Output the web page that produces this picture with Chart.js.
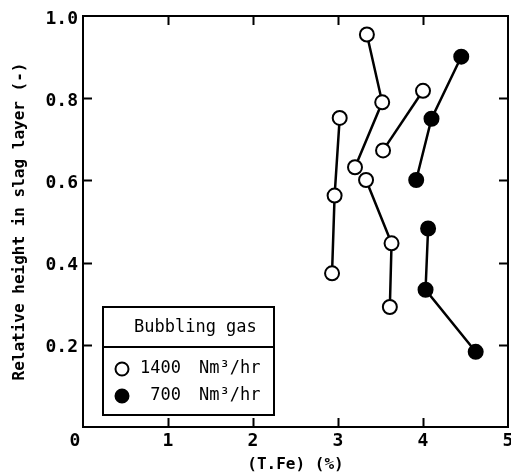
<!DOCTYPE html>
<html>
<head>
<meta charset="utf-8">
<script src="https://cdn.jsdelivr.net/npm/chart.js@4"></script>
<style>
  html, body { margin: 0; padding: 0; background: #fff; }
  #wrap { width: 511px; height: 474px; }
</style>
</head>
<body>
<div id="wrap"><canvas id="c" width="511" height="474"></canvas></div>
<script>
/* Slag layer height vs (T.Fe) — two bubbling gas rates */

const X_TICKS = [0, 1, 2, 3, 4, 5];
const Y_TICKS = [0, 0.2, 0.4, 0.6, 0.8, 1.0];

// 1400 Nm3/hr runs (open circles)
const runA_x = [3.34, 3.52, 3.20];
const runA_y = [0.955, 0.79, 0.632];
const runB_x = [3.33, 3.63, 3.61];
const runB_y = [0.601, 0.447, 0.292];
const runC_x = [3.02, 2.96, 2.93];
const runC_y = [0.752, 0.563, 0.374];
const runD_x = [3.53, 4.00];
const runD_y = [0.673, 0.818];

// 700 Nm3/hr runs (filled circles)
const runE_x = [4.45, 4.10, 3.92];
const runE_y = [0.901, 0.750, 0.601];
const runF_x = [4.06, 4.03, 4.62];
const runF_y = [0.483, 0.334, 0.183];

const LEGEND_TITLE = 'Bubbling gas';
const LEGEND_ROWS = [
  { rate: '1400', unit: 'Nm³/hr', filled: false },
  { rate: '700', unit: 'Nm³/hr', filled: true },
];

const FONT = "'DejaVu Sans Mono', monospace";

function pts(xs, ys) { return xs.map((x, i) => ({ x, y: ys[i] })); }
function run(xs, ys, filled) {
  return {
    data: pts(xs, ys),
    showLine: true,
    borderColor: '#000',
    borderWidth: 2.5,
    pointRadius: 7,
    pointBorderWidth: 2,
    pointBorderColor: '#000',
    pointBackgroundColor: filled ? '#000' : '#fff',
  };
}

/* inward ticks on all four sides, heavy frame, x tick labels */
const frameTicks = {
  id: 'frameTicks',
  afterDatasetsDraw(chart) {
    const { ctx, chartArea: a, scales: { x, y } } = chart;
    const len = 9;
    ctx.save();
    ctx.strokeStyle = '#000';
    ctx.lineWidth = 2;
    ctx.beginPath();
    X_TICKS.slice(1, -1).forEach((v) => {
      const px = Math.round(x.getPixelForValue(v)) + 0.5;
      ctx.moveTo(px, a.bottom); ctx.lineTo(px, a.bottom - len);
      ctx.moveTo(px, a.top); ctx.lineTo(px, a.top + len);
    });
    Y_TICKS.slice(1, -1).forEach((v) => {
      const py = Math.round(y.getPixelForValue(v)) + 0.5;
      ctx.moveTo(a.left, py); ctx.lineTo(a.left + len, py);
      ctx.moveTo(a.right, py); ctx.lineTo(a.right - len, py);
    });
    ctx.stroke();
    ctx.strokeRect(a.left, a.top, a.right - a.left, a.bottom - a.top);

    // x labels; the corner "0" is shared by both axes and sits left of origin
    ctx.fillStyle = '#000';
    ctx.font = `bold 18px ${FONT}`;
    ctx.textAlign = 'center';
    ctx.textBaseline = 'middle';
    X_TICKS.forEach((v) => {
      const px = x.getPixelForValue(v) - (v === 0 ? 8 : 0);
      ctx.fillText(String(v), px, a.bottom + 14);
    });
    ctx.restore();
  },
};

/* boxed legend in lower-left */
const boxLegend = {
  id: 'boxLegend',
  afterDraw(chart) {
    const { ctx } = chart;
    const L = 103, T = 307, R = 274, B = 415, mid = 347;
    ctx.save();
    ctx.fillStyle = '#fff';
    ctx.fillRect(L, T, R - L, B - T);
    ctx.strokeStyle = '#000';
    ctx.lineWidth = 2;
    ctx.strokeRect(L, T, R - L, B - T);
    ctx.beginPath(); ctx.moveTo(L, mid); ctx.lineTo(R, mid); ctx.stroke();

    ctx.fillStyle = '#000';
    ctx.font = `17px ${FONT}`;
    ctx.textBaseline = 'middle';
    ctx.textAlign = 'left';
    ctx.fillText(LEGEND_TITLE, 134, 328);

    LEGEND_ROWS.forEach((r, i) => {
      const cy = 369 + i * 27;
      ctx.beginPath();
      ctx.arc(122, cy, 6.5, 0, Math.PI * 2);
      ctx.fillStyle = r.filled ? '#000' : '#fff';
      ctx.fill();
      ctx.lineWidth = 2;
      ctx.stroke();
      ctx.fillStyle = '#000';
      ctx.textAlign = 'right';
      ctx.fillText(r.rate, 181, cy);
      ctx.textAlign = 'left';
      ctx.fillText(r.unit, 199, cy);
    });
    ctx.restore();
  },
};

new Chart(document.getElementById('c'), {
  type: 'scatter',
  data: {
    datasets: [
      run(runA_x, runA_y, false),
      run(runB_x, runB_y, false),
      run(runC_x, runC_y, false),
      run(runD_x, runD_y, false),
      run(runE_x, runE_y, true),
      run(runF_x, runF_y, true),
    ],
  },
  options: {
    responsive: false,
    animation: false,
    layout: { autoPadding: false, padding: { top: 16, right: 3, left: 0, bottom: 0 } },
    plugins: { legend: { display: false }, tooltip: { enabled: false } },
    scales: {
      x: {
        type: 'linear',
        min: 0, max: 5,
        afterBuildTicks: (s) => { s.ticks = X_TICKS.map((v) => ({ value: v })); },
        afterFit: (s) => { s.height = 47; s.paddingLeft = 0; s.paddingRight = 0; },
        grid: { display: false, drawTicks: false },
        border: { display: false },
        ticks: { display: false },
        title: {
          display: true,
          text: '(T.Fe) (%)',
          color: '#000',
          font: { family: FONT, size: 16, weight: 'bold' },
          padding: { top: 3, bottom: 0 },
        },
      },
      y: {
        type: 'linear',
        min: 0, max: 1,
        afterBuildTicks: (s) => { s.ticks = Y_TICKS.map((v) => ({ value: v })); },
        afterFit: (s) => { s.width = 83; s.paddingTop = 0; s.paddingBottom = 0; },
        grid: { display: false, drawTicks: false },
        border: { display: false },
        ticks: {
          color: '#000',
          padding: 5,
          labelOffset: 3,
          font: { family: FONT, size: 18, weight: 'bold' },
          callback: (v) => (v === 0 ? '' : v.toFixed(1)),
        },
        title: {
          display: true,
          text: 'Relative height in slag layer (-)',
          color: '#000',
          font: { family: FONT, size: 16, weight: 'bold' },
          padding: { top: 10, bottom: 0 },
        },
      },
    },
  },
  plugins: [frameTicks, boxLegend],
});
</script>
</body>
</html>
